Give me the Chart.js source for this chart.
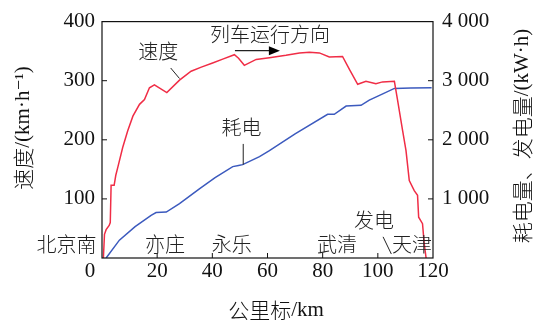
<!DOCTYPE html>
<html>
<head>
<meta charset="utf-8">
<script src="https://cdn.jsdelivr.net/npm/chart.js@4.4.1/dist/chart.umd.min.js"></script>
<style>
  body { margin: 0; background: #fff; }
</style>
</head>
<body>
<canvas id="chart_1" width="534" height="320"></canvas>
<script>
//Speed curve: km mark and speed (km/h)
let speed_km = [0.5, 0.9, 1.5, 2.6, 3.0, 3.3, 4.4, 5.0, 5.7, 7.5, 9.3, 11.2, 13.6, 15.4, 17.2, 19.0, 23.5, 28.1, 32.3, 36.0, 40.1, 44.0, 48.0, 49.5, 51.6, 55.9, 60.7, 66.7, 71.6, 75.2, 78.8, 82.4, 87.2, 89.7, 92.7, 95.7, 99.3, 101.7, 106.0, 107.2, 109.0, 110.2, 111.4, 113.2, 114.4, 114.8, 116.2, 116.8, 117.5];
let speed_val = [0, 40, 48, 55, 60, 123, 123, 140, 153, 187, 215, 240, 260, 268, 288, 293, 280, 301, 316, 323, 330, 337, 344, 338, 326, 336, 339, 343, 347, 348, 347, 340, 341, 319, 294, 299, 295, 298, 299, 266, 215, 182, 131, 114, 106, 69, 58, 25, 0];

//Energy curve: km mark and energy (kW·h), right axis
let energy_km = [1.5, 6.3, 12.0, 17.8, 19.6, 23.3, 28.1, 35.3, 41.0, 47.4, 49.5, 51.0, 57.1, 60.7, 70.0, 81.8, 84.2, 88.5, 93.9, 96.9, 101.0, 106.0, 112.0, 119.5];
let energy_val = [0, 302, 530, 723, 768, 778, 919, 1171, 1360, 1546, 1565, 1580, 1714, 1815, 2100, 2432, 2432, 2571, 2583, 2672, 2760, 2869, 2875, 2879];

//Tick values
let x_ticks = [0, 20, 40, 60, 80, 100, 120];
let speed_ticks = [0, 100, 200, 300, 400];
let energy_ticks = [0, 1000, 2000, 3000, 4000];

//Station names along the bottom, by km mark
let station_names = ['北京南', '亦庄', '永乐', '武清', '天津'];
let station_km = [-12.9, 22.8, 47.0, 85.2, 112.4];

const serif = '"Liberation Serif", "DejaVu Serif", serif';
const cjk = '"Noto Sans CJK SC", sans-serif';
const red = 'rgb(240, 45, 70)';
const blue = 'rgb(60, 90, 190)';

let chart_canvas1 = document.getElementById('chart_1');

const toPoints = (xs, ys) => xs.map((k, i) => ({ x: k, y: ys[i] }));

//Draws a title made of CJK and Latin pieces, centred at (cx, cy)
const drawMixed = (ctx, parts, cx, cy, rot) => {
    ctx.save();
    ctx.translate(cx, cy);
    ctx.rotate(rot);
    ctx.textAlign = 'left';
    ctx.textBaseline = 'middle';
    let total = 0;
    parts.forEach(p => { ctx.font = p[1]; total += ctx.measureText(p[0]).width; });
    let x = -total / 2;
    parts.forEach(p => {
        ctx.font = p[1];
        ctx.fillText(p[0], x, 0);
        x += ctx.measureText(p[0]).width;
    });
    ctx.restore();
};

//Frame, inward ticks, titles and in-plot notes
const decor = {
    id: 'decor',
    afterDraw(chart) {
        const { ctx, chartArea: a, scales } = chart;
        const sx = scales.x, sy = scales.y, sy2 = scales.y2;
        const px = v => sx.getPixelForValue(v);
        const py = v => sy.getPixelForValue(v);
        const line = (x1, y1, x2, y2) => {
            ctx.beginPath(); ctx.moveTo(x1, y1); ctx.lineTo(x2, y2); ctx.stroke();
        };
        ctx.save();
        ctx.strokeStyle = '#111';
        ctx.lineWidth = 1.2;
        ctx.strokeRect(a.left, a.top, a.right - a.left, a.bottom - a.top);

        ctx.lineWidth = 1;
        x_ticks.slice(1, -1).forEach(v => line(px(v), a.bottom, px(v), a.bottom - 5));
        speed_ticks.slice(1, -1).forEach(v => line(a.left, py(v), a.left + 5, py(v)));
        energy_ticks.slice(1, -1).forEach(v => {
            let y = sy2.getPixelForValue(v);
            line(a.right, y, a.right - 5, y);
        });

        //lone zero at the corner
        ctx.fillStyle = '#111';
        ctx.font = '21px ' + serif;
        ctx.textAlign = 'center';
        ctx.textBaseline = 'middle';
        ctx.fillText('0', px(0) - 12, a.bottom + 13);

        //axis titles
        const tc = '300 21px ' + cjk, tl = '21px ' + serif;
        drawMixed(ctx, [['公里标', tc], ['/km', tl]], 276, 310, 0);
        drawMixed(ctx, [['速度', tc], ['/(km·h⁻¹)', tl]], 23, 128, -Math.PI / 2);
        drawMixed(ctx, [['耗电量、发电量', tc], ['/(kW·h)', tl]], 522, 136, -Math.PI / 2);

        //notes inside the plot
        ctx.fillStyle = '#222';
        ctx.font = '300 20px ' + cjk;
        ctx.textAlign = 'center';
        ctx.textBaseline = 'middle';
        station_names.forEach((n, i) => ctx.fillText(n, px(station_km[i]), py(23.5)));
        ctx.fillText('发电', px(98.6), py(64));
        ctx.fillText('速度', px(20.4), py(349.6));
        ctx.fillText('耗电', px(50.6), py(220.7));
        ctx.fillText('列车运行方向', px(60.9), py(377.6));

        ctx.strokeStyle = '#222';
        line(px(101.9), py(35.8), px(104.9), py(6.7));
        line(px(24.9), py(321.5), px(28.1), py(303.7));
        line(px(51.2), py(193), px(51.2), py(158));

        //direction arrow
        ctx.lineWidth = 1.3;
        let ay = py(350.8);
        line(px(48.2), ay, px(61), ay);
        ctx.fillStyle = '#000';
        ctx.beginPath();
        ctx.moveTo(px(64.5), ay);
        ctx.lineTo(px(60.5), ay - 4.5);
        ctx.lineTo(px(60.5), ay + 4.5);
        ctx.closePath();
        ctx.fill();
        ctx.restore();
    }
};

let chart = new Chart(chart_canvas1, {
    type: 'line',
    data: {
        datasets: [{
            label: '速度',
            data: toPoints(speed_km, speed_val),
            borderColor: red,
            borderWidth: 1.5,
            pointRadius: 0,
            yAxisID: 'y'
        }, {
            label: '耗电',
            data: toPoints(energy_km, energy_val),
            borderColor: blue,
            borderWidth: 1.5,
            pointRadius: 0,
            yAxisID: 'y2'
        }]
    },
    options: {
        responsive: false,
        animation: false,
        devicePixelRatio: 1,
        layout: { padding: { top: 20, left: 0, right: 0, bottom: 0 } },
        plugins: { legend: { display: false }, tooltip: { enabled: false } },
        scales: {
            x: {
                type: 'linear',
                min: 0, max: 120,
                afterFit: s => { s.height = 62; },
                afterBuildTicks: s => { s.ticks = x_ticks.map(v => ({ value: v })); },
                grid: { display: false, drawTicks: false },
                border: { display: false },
                ticks: {
                    padding: 1,
                    color: '#111',
                    font: { family: serif, size: 21 },
                    callback: v => v === 0 ? '' : v
                }
            },
            y: {
                position: 'left',
                min: 0, max: 400,
                afterFit: s => { s.width = 102; },
                afterBuildTicks: s => { s.ticks = speed_ticks.map(v => ({ value: v })); },
                grid: { display: false, drawTicks: false },
                border: { display: false },
                ticks: {
                    padding: 7,
                    color: '#111',
                    font: { family: serif, size: 21 },
                    callback: v => v === 0 ? '' : v
                }
            },
            y2: {
                position: 'right',
                min: 0, max: 4000,
                afterFit: s => { s.width = 101; },
                afterBuildTicks: s => { s.ticks = energy_ticks.map(v => ({ value: v })); },
                grid: { display: false, drawTicks: false },
                border: { display: false },
                ticks: {
                    padding: 9,
                    color: '#111',
                    font: { family: serif, size: 21 },
                    callback: v => v === 0 ? '' : String(v).replace(/(\d)(\d{3})$/, '$1 $2')
                }
            }
        }
    },
    plugins: [decor]
});
</script>
</body>
</html>
